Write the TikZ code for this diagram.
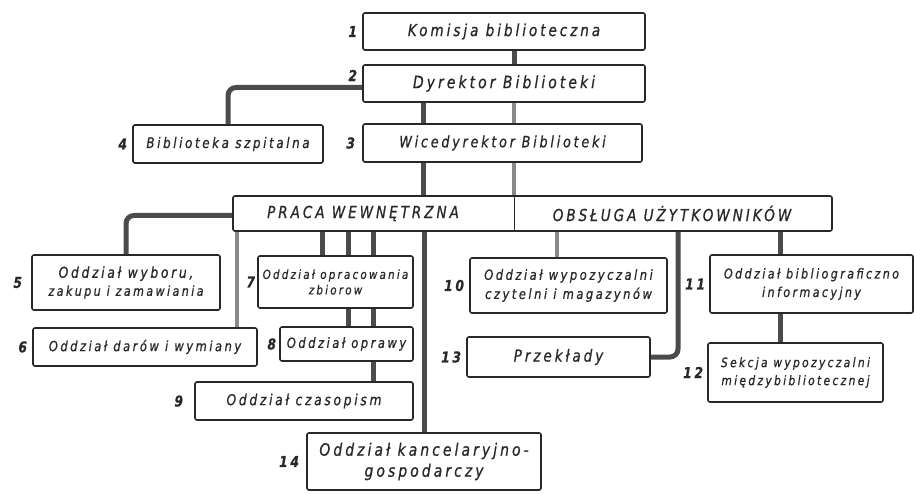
\documentclass[tikz,border=0pt]{standalone}
\usepackage{fontspec}
\setmainfont{DejaVu Sans}[FakeStretch=0.82,LetterSpace=18,FakeBold=0.7]
\usetikzlibrary{positioning}
\definecolor{ink}{RGB}{40,40,40}
\definecolor{linia}{RGB}{75,75,75}
\newcommand\rozmiar[1]{\itshape\fontsize{#1}{#1}\selectfont}
\tikzset{
  box/.style={draw=ink, line width=1.6pt, rounded corners=2pt, fill=white,
    inner sep=2pt, align=center, text=ink, font=\rozmiar{14}},
  nr/.style={font=\bfseries\rozmiar{15}, text=ink, inner sep=1pt},
  conn/.style={draw=linia, line width=5pt},
  connjasny/.style={draw=linia!65, line width=4pt},
}

\begin{document}
\begin{tikzpicture}[x=1pt,y=-1pt]
		\useasboundingbox (0,0) rectangle (915,494);

		% kierownictwo
		\node[box, font=\rozmiar{16.5}, minimum width=282, minimum height=37] (b1) at (504,31.5) {Komisja biblioteczna};
		\node[box, font=\rozmiar{17}, minimum width=282, minimum height=37] (b2) at (504,83.5) {Dyrektor Biblioteki};
		\node[box, font=\rozmiar{15.5}, minimum width=279, minimum height=38] (b3) at (502.5,143) {Wicedyrektor Biblioteki};
		\node[box, font=\rozmiar{14.5}, minimum width=190, minimum height=38] (b4) at (228,144) {Biblioteka szpitalna};

		% piony
		\node[box, minimum width=599, minimum height=35] (glowny) at (532.5,213.5) {};
		\node[font=\rozmiar{16.5}, text=ink] (praca) at (363,213.5) {PRACA WEWNĘTRZNA};
		\node[font=\rozmiar{16.5}, text=ink] (obsluga) at (672,213.5) {OBSŁUGA UŻYTKOWNIKÓW};

		% oddzialy
		\node[box, font=\rozmiar{15}, minimum width=188, minimum height=55] (b5) at (126,282.5) {Oddział wyboru,\\[3pt]{\rozmiar{13.5}zakupu i zamawiania}};
		\node[box, minimum width=224, minimum height=38] (b6) at (145,347) {Oddział darów i wymiany};
		\node[box, font=\rozmiar{12.5}, minimum width=155, minimum height=52] (b7) at (335.5,282) {Oddział opracowania\\[3pt]zbiorow};
		\node[box, minimum width=133, minimum height=34] (b8) at (346.5,344) {Oddział oprawy};
		\node[box, font=\rozmiar{15}, minimum width=218, minimum height=38] (b9) at (304,401) {Oddział czasopism};
		\node[box, minimum width=197, minimum height=55] (b10) at (568.5,285.5) {Oddział wypozyczalni\\[4pt]czytelni i magazynów};
		\node[box, font=\rozmiar{13.5}, minimum width=203, minimum height=58] (b11) at (811.5,284) {Oddział bibliograficzno\\[5pt]informacyjny};
		\node[box, font=\rozmiar{13}, minimum width=175, minimum height=59] (b12) at (795.5,372.5) {Sekcja wypozyczalni\\[5pt]międzybibliotecznej};
		\node[box, font=\rozmiar{16.5}, minimum width=183, minimum height=40] (b13) at (558.5,357) {Przekłady};
		\node[box, font=\rozmiar{17}, minimum width=234, minimum height=57] (b14) at (424,461.5) {Oddział kancelaryjno-\\[4pt]gospodarczy};

		% numery
		\node[nr, left=4pt of b1] (n1) {1};
		\node[nr, left=4pt of b2, yshift=8pt] (n2) {2};
		\node[nr, left=6pt of b3] (n3) {3};
		\node[nr, left=4pt of b4] (n4) {4};
		\node[nr, left=8pt of b5] (n5) {5};
		\node[nr, left=4pt of b6] (n6) {6};
		\node[nr, left=1pt of b7] (n7) {7};
		\node[nr, left=2pt of b8] (n8) {8};
		\node[nr, left=10pt of b9] (n9) {9};
		\node[nr, left=4pt of b10] (n10) {10};
		\node[nr, left=3pt of b11] (n11) {11};
		\node[nr, left=3pt of b12] (n12) {12};
		\node[nr, left=4pt of b13] (n13) {13};
		\node[nr, left=6pt of b14] (n14) {14};

		% punkty odejscia linii
		\coordinate (xa) at (423,0);
		\coordinate (xb) at (514,0);
		\coordinate (xw) at (237,0);
		\coordinate (xc) at (322,0);
		\coordinate (xd) at (348,0);
		\coordinate (xe) at (373,0);
		\coordinate (xg) at (557,0);
		\coordinate (xf) at (678,0);
		\coordinate (xh) at (780,0);

		\draw[ink, line width=0.6pt] (glowny.north -| xb) -- (glowny.south -| xb);

		% polaczenia
		\draw[conn] (b1.south -| xb) -- (b2.north -| xb);
		\draw[conn] (b2.south -| xa) -- (b3.north -| xa);
		\draw[connjasny] (b2.south -| xb) -- (b3.north -| xb);
		\draw[conn] (b3.south -| xa) -- (glowny.north -| xa);
		\draw[connjasny] (b3.south -| xb) -- (glowny.north -| xb);
		\draw[conn, rounded corners=8pt] ([yshift=-4pt]b2.west) -| (b4.north);
		\draw[conn, rounded corners=8pt] ([yshift=-2pt]glowny.west) -| (b5.north);
		\draw[connjasny] (glowny.south -| xw) -- (b6.north -| xw);
		\draw[conn] (glowny.south -| xc) -- (b7.north -| xc);
		\draw[conn] (glowny.south -| xd) -- (b7.north -| xd);
		\draw[conn] (glowny.south -| xe) -- (b7.north -| xe);
		\draw[conn] (b7.south -| xd) -- (b8.north -| xd);
		\draw[conn] (b7.south -| xe) -- (b8.north -| xe);
		\draw[conn] (b8.south -| xe) -- (b9.north -| xe);
		\draw[conn] (glowny.south -| b14.north) -- (b14.north);
		\draw[connjasny] (glowny.south -| xg) -- (b10.north -| xg);
		\draw[conn, rounded corners=8pt] (glowny.south -| xf) |- (b13.east);
		\draw[conn] (glowny.south -| xh) -- (b11.north -| xh);
		\draw[conn] (b11.south -| xh) -- (b12.north -| xh);
	\end{tikzpicture}
\end{document}
